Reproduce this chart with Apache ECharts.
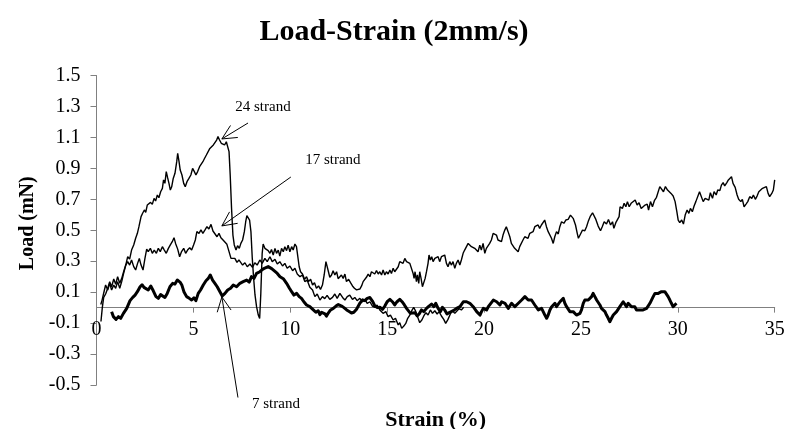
<!DOCTYPE html>
<html>
<head>
<meta charset="utf-8">
<script src="https://cdn.jsdelivr.net/npm/echarts@6/dist/echarts.min.js"></script>
<style>
html,body{margin:0;padding:0;background:#fff;}
#chart{width:788px;height:429px;}
</style>
</head>
<body>
<div id="chart"></div>
<script>
// ---------- data ----------
const titleText = 'Load-Strain (2mm/s)';
const xName = 'Strain (%)';
const yName = 'Load (mN)';
const xTicks = {min: 0, max: 35, step: 5};
const yTicks = {min: -0.5, max: 1.5, step: 0.2};

// 24 strand: [strain %, load mN]
const strand24 = [
[0.23,-0.09],[0.30,0.00],[0.37,0.066],[0.47,0.088],[0.58,0.125],[0.68,0.168],[0.78,0.135],[0.89,0.185],[0.99,0.151],[1.09,0.200],[1.20,0.157],[1.30,0.189],[1.40,0.232],[1.51,0.275],[1.61,0.329],[1.71,0.314],[1.81,0.372],[1.92,0.405],[2.02,0.448],[2.11,0.480],[2.19,0.523],[2.30,0.588],[2.38,0.610],[2.47,0.631],[2.54,0.616],[2.62,0.663],[2.71,0.652],[2.79,0.680],[2.88,0.667],[2.97,0.706],[3.05,0.689],[3.14,0.728],[3.22,0.710],[3.31,0.749],[3.40,0.771],[3.46,0.825],[3.53,0.803],[3.60,0.879],[3.67,0.840],[3.74,0.803],[3.81,0.760],[3.88,0.781],[3.96,0.835],[4.05,0.868],[4.14,0.943],[4.19,0.997],[4.26,0.943],[4.32,0.889],[4.41,0.857],[4.50,0.803],[4.58,0.781],[4.67,0.814],[4.77,0.835],[4.87,0.857],[4.96,0.900],[5.05,0.879],[5.13,0.857],[5.22,0.879],[5.32,0.911],[5.41,0.900],[5.49,0.943],[5.58,0.965],[5.67,0.986],[5.77,0.997],[5.85,1.029],[5.94,1.018],[6.03,1.051],[6.11,1.062],[6.20,1.083],[6.27,1.105],[6.35,1.083],[6.44,1.062],[6.53,1.072],[6.61,1.051],[6.70,1.072],[6.78,1.062],[6.84,1.008],[6.90,0.857],[6.97,0.641],[7.04,0.469],[7.11,0.405],[7.20,0.372],[7.28,0.400],[7.37,0.383],[7.45,0.415],[7.54,0.437],[7.63,0.491],[7.70,0.555],[7.76,0.594],[7.83,0.603],[7.90,0.566],[7.97,0.491],[8.04,0.318],[8.11,0.189],[8.18,0.082],[8.26,0.006],[8.35,-0.048],[8.42,-0.070],[8.48,0.092],[8.52,0.243],[8.55,0.351],[8.60,0.411],[8.69,0.383],[8.78,0.394],[8.86,0.368],[8.95,0.351],[9.03,0.376],[9.12,0.340],[9.21,0.383],[9.29,0.351],[9.38,0.372],[9.46,0.333],[9.55,0.383],[9.64,0.361],[9.72,0.394],[9.81,0.368],[9.89,0.404],[9.98,0.361],[10.07,0.394],[10.15,0.372],[10.24,0.411],[10.32,0.394],[10.41,0.404],[10.46,0.264],[10.53,0.232],[10.63,0.217],[10.74,0.183],[10.84,0.200],[10.94,0.168],[11.05,0.183],[11.15,0.146],[11.25,0.161],[11.35,0.125],[11.46,0.140],[11.56,0.118],[11.66,0.146],[11.75,0.211],[11.84,0.297],[11.90,0.286],[11.97,0.232],[12.04,0.196],[12.13,0.211],[12.21,0.239],[12.30,0.211],[12.39,0.232],[12.47,0.187],[12.56,0.178],[12.64,0.211],[12.73,0.189],[12.82,0.217],[12.90,0.168],[13.01,0.183],[13.11,0.161],[13.21,0.140],[13.31,0.125],[13.42,0.115],[13.52,0.105],[13.59,0.120],[13.68,0.140],[13.76,0.168],[13.85,0.161],[13.93,0.196],[14.02,0.217],[14.11,0.200],[14.19,0.232],[14.28,0.243],[14.36,0.217],[14.45,0.239],[14.54,0.217],
[14.62,0.232],[14.71,0.211],[14.79,0.243],[14.88,0.211],[14.96,0.232],[15.05,0.217],[15.14,0.243],[15.22,0.221],[15.31,0.254],[15.39,0.232],[15.48,0.243],[15.57,0.264],[15.65,0.297],[15.74,0.308],[15.82,0.286],[15.91,0.318],[16.00,0.297],[16.08,0.308],[16.17,0.286],[16.25,0.297],[16.34,0.221],[16.39,0.189],[16.44,0.232],[16.51,0.168],[16.56,0.211],[16.63,0.157],[16.68,0.232],[16.75,0.189],[16.82,0.135],[16.89,0.125],[16.96,0.189],[17.03,0.232],[17.11,0.286],[17.16,0.340],[17.23,0.308],[17.30,0.329],[17.37,0.297],[17.46,0.318],[17.54,0.308],[17.63,0.329],[17.71,0.297],[17.80,0.329],[17.89,0.318],[17.97,0.340],[18.06,0.286],[18.14,0.264],[18.23,0.297],[18.32,0.275],[18.40,0.297],[18.49,0.254],[18.57,0.286],[18.66,0.308],[18.75,0.275],[18.83,0.308],[18.92,0.351],[19.00,0.372],[19.09,0.361],[19.18,0.415],[19.26,0.426],[19.35,0.394],[19.43,0.404],[19.52,0.383],[19.61,0.394],[19.69,0.361],[19.78,0.404],[19.86,0.372],[19.95,0.415],[20.04,0.351],[20.12,0.383],[20.21,0.394],[20.29,0.415],[20.38,0.437],[20.47,0.480],[20.55,0.491],[20.64,0.469],[20.72,0.437],[20.81,0.448],[20.90,0.426],[20.98,0.469],[21.07,0.501],[21.15,0.523],[21.24,0.491],[21.33,0.458],[21.41,0.415],[21.50,0.404],[21.58,0.383],[21.67,0.372],[21.76,0.361],[21.84,0.394],[21.93,0.404],[22.01,0.437],[22.10,0.458],[22.19,0.469],[22.27,0.448],[22.36,0.480],[22.44,0.469],[22.53,0.491],[22.62,0.523],[22.70,0.512],[22.79,0.534],[22.87,0.512],[22.96,0.534],[23.04,0.545],[23.13,0.566],
[23.22,0.523],[23.31,0.491],[23.48,0.448],[23.57,0.415],[23.65,0.458],[23.74,0.491],[23.83,0.476],[23.91,0.523],[24.00,0.555],[24.12,0.545],[24.22,0.566],[24.34,0.570],[24.46,0.598],[24.51,0.609],[24.60,0.577],[24.72,0.534],[24.81,0.480],[24.87,0.448],[24.98,0.476],[25.08,0.501],[25.20,0.497],[25.29,0.523],[25.39,0.562],[25.49,0.592],[25.60,0.613],[25.68,0.620],[25.77,0.570],[25.89,0.527],[26.01,0.497],[26.10,0.523],[26.20,0.555],[26.32,0.540],[26.42,0.570],[26.53,0.534],[26.63,0.555],[26.70,0.512],[26.80,0.549],[26.90,0.540],[26.97,0.588],[27.02,0.652],[27.14,0.641],[27.23,0.674],[27.32,0.652],[27.40,0.685],[27.49,0.652],[27.59,0.674],[27.69,0.685],[27.80,0.695],[27.90,0.663],[28.00,0.678],[28.11,0.641],[28.21,0.631],[28.31,0.663],[28.42,0.669],[28.49,0.631],[28.59,0.685],[28.69,0.652],[28.79,0.691],[28.90,0.713],[29.00,0.713],[29.07,0.782],[29.17,0.792],[29.26,0.749],[29.36,0.782],[29.47,0.760],[29.55,0.771],[29.65,0.738],[29.76,0.721],[29.86,0.685],[29.95,0.620],[30.02,0.566],[30.10,0.549],[30.20,0.566],[30.29,0.540],[30.38,0.598],[30.48,0.631],[30.57,0.609],[30.65,0.641],[30.75,0.620],[30.84,0.657],[30.93,0.685],[31.03,0.678],[31.12,0.749],[31.20,0.738],[31.31,0.685],[31.41,0.706],[31.51,0.717],[31.60,0.695],[31.68,0.743],[31.79,0.706],[31.87,0.749],[31.98,0.728],[32.06,0.760],[32.17,0.756],[32.25,0.792],[32.34,0.808],[32.42,0.786],[32.53,0.808],[32.61,0.825],[32.70,0.836],[32.77,0.846],[32.85,0.803],[32.96,0.777],[33.06,0.728],[33.14,0.700],[33.25,0.685],[33.33,0.700],[33.42,0.652],[33.52,0.669],[33.61,0.685],[33.71,0.717],[33.82,0.706],[33.90,0.728],[34.00,0.700],[34.09,0.721],[34.18,0.749],[34.28,0.743],[34.37,0.771],[34.47,0.760],[34.57,0.782],[34.66,0.738],[34.74,0.717],[34.85,0.738],[34.93,0.760],[35.00,0.825]
];

// 17 strand
const strand17 = [
[0.22,0.02],[0.27,0.039],[0.37,0.093],[0.47,0.146],[0.58,0.114],[0.68,0.157],[0.78,0.114],[0.89,0.146],[0.99,0.125],[1.09,0.168],[1.20,0.125],[1.30,0.168],[1.40,0.221],[1.51,0.275],[1.61,0.297],[1.71,0.275],[1.81,0.308],[1.92,0.265],[2.02,0.243],[2.12,0.286],[2.21,0.318],[2.30,0.275],[2.40,0.243],[2.50,0.318],[2.59,0.378],[2.67,0.362],[2.78,0.383],[2.88,0.351],[2.98,0.372],[3.09,0.351],[3.19,0.383],[3.29,0.362],[3.40,0.394],[3.50,0.372],[3.60,0.351],[3.71,0.383],[3.81,0.405],[3.91,0.426],[4.00,0.452],[4.08,0.415],[4.19,0.378],[4.29,0.329],[4.39,0.362],[4.50,0.383],[4.60,0.351],[4.70,0.372],[4.81,0.387],[4.91,0.372],[5.01,0.405],[5.10,0.437],[5.18,0.491],[5.29,0.480],[5.39,0.502],[5.49,0.480],[5.60,0.502],[5.70,0.523],[5.80,0.508],[5.91,0.538],[6.01,0.495],[6.11,0.487],[6.22,0.458],[6.32,0.480],[6.42,0.452],[6.53,0.437],[6.63,0.448],[6.73,0.409],[6.84,0.362],[6.94,0.318],[7.04,0.308],[7.14,0.318],[7.25,0.292],[7.35,0.308],
[7.40,0.297],[7.54,0.275],[7.66,0.290],[7.78,0.264],[7.92,0.282],[8.05,0.260],[8.17,0.290],[8.29,0.275],[8.43,0.308],[8.55,0.286],[8.69,0.318],[8.81,0.297],[8.95,0.329],[9.07,0.297],[9.21,0.312],[9.33,0.282],[9.46,0.297],[9.60,0.269],[9.72,0.286],[9.84,0.254],[9.98,0.269],[10.12,0.239],[10.24,0.254],[10.36,0.217],[10.50,0.200],[10.63,0.211],[10.75,0.168],[10.87,0.178],[11.01,0.131],[11.15,0.114],[11.27,0.071],[11.39,0.088],[11.53,0.049],[11.66,0.071],[11.78,0.058],[11.90,0.079],[12.04,0.053],[12.18,0.066],[12.30,0.088],[12.42,0.060],[12.56,0.092],[12.70,0.066],[12.82,0.049],[12.94,0.071],[13.07,0.081],[13.21,0.053],[13.33,0.066],[13.45,0.045],[13.59,0.060],[13.73,0.038],[13.85,0.053],[13.97,0.028],[14.11,0.038],[14.24,0.010],[14.36,0.002],[14.48,0.017],[14.62,-0.015],[14.79,-0.037],[14.93,-0.026],[15.05,-0.058],[15.17,-0.048],[15.31,-0.080],[15.43,-0.069],[15.57,-0.112],[15.65,-0.097],[15.75,-0.134],[15.86,-0.119],[15.96,-0.102],[16.06,-0.069],[16.17,-0.048],[16.27,-0.020],[16.37,0.002],[16.48,-0.026],[16.58,-0.063],[16.68,-0.097],[16.79,-0.080],[16.89,-0.054],[17.00,-0.033],[17.11,-0.048],[17.23,-0.015],[17.34,-0.037],[17.46,-0.020],[17.58,-0.041],[17.68,-0.026],[17.80,-0.054],[17.92,-0.076],[18.02,-0.102],[18.14,-0.076],[18.26,-0.041],[18.37,-0.020],[18.49,-0.037],[18.61,-0.020],[18.71,-0.007],[18.83,-0.015],[18.95,0.002]
];

// 7 strand (thick line)
const strand7 = [
[0.78,-0.026],[0.87,-0.058],[1.01,-0.076],[1.13,-0.058],[1.25,-0.069],[1.39,-0.037],[1.56,-0.005],[1.73,0.045],[1.87,0.066],[1.99,0.081],[2.11,0.103],[2.25,0.135],[2.35,0.148],[2.45,0.131],[2.55,0.122],[2.67,0.114],[2.80,0.140],[2.93,0.109],[3.07,0.071],[3.19,0.060],[3.31,0.084],[3.41,0.092],[3.53,0.066],[3.65,0.092],[3.79,0.135],[3.93,0.157],[4.05,0.152],[4.17,0.178],[4.31,0.165],[4.41,0.144],[4.51,0.103],[4.65,0.071],[4.79,0.060],[4.91,0.049],[5.03,0.064],[5.13,0.045],[5.25,0.092],[5.37,0.114],[5.51,0.146],[5.65,0.174],[5.77,0.189],[5.87,0.211],[5.99,0.178],[6.11,0.157],[6.23,0.135],[6.37,0.103],[6.49,0.075],[6.63,0.092],[6.77,0.114],[6.92,0.125],[7.06,0.146],[7.23,0.135],[7.40,0.157],[7.57,0.168],[7.75,0.178],[7.88,0.165],[8.00,0.200],[8.13,0.189],[8.26,0.221],[8.43,0.232],[8.57,0.247],[8.69,0.256],[8.86,0.265],[9.04,0.252],[9.21,0.234],[9.33,0.221],[9.47,0.200],[9.64,0.187],[9.81,0.157],[9.95,0.127],[10.07,0.103],[10.19,0.081],[10.33,0.092],[10.46,0.071],[10.58,0.060],[10.70,0.038],[10.84,0.017],[11.01,0.006],[11.19,-0.015],[11.32,-0.030],[11.44,-0.020],[11.53,-0.045],[11.62,-0.030],[11.79,-0.040],[11.87,-0.055],[11.96,-0.035],[12.08,-0.015],[12.22,-0.005],[12.36,0.010],[12.48,0.020],[12.56,0.028],[12.65,0.010],[12.77,0.000],[12.91,-0.015],[13.04,-0.025],[13.16,-0.035],[13.28,-0.030],[13.42,-0.010],[13.59,0.028],[13.73,0.050],[13.85,0.045],[13.97,0.060],[14.11,0.065],[14.25,0.040],[14.37,0.010],[14.49,0.000],[14.62,0.002],[14.76,-0.011],[14.88,0.010],[15.00,0.038],[15.14,0.053],[15.27,0.038],[15.39,0.017],[15.51,0.038],[15.65,0.053],[15.77,0.038],[15.89,0.017],[16.00,-0.005],[16.10,-0.015],[16.20,-0.037],[16.30,-0.048],[16.43,-0.033],[16.55,-0.054],[16.65,-0.041],[16.77,-0.015],[16.89,-0.026],[17.03,-0.005],[17.16,0.010],[17.29,0.023],[17.41,0.006],[17.51,0.028],[17.63,-0.005],[17.75,-0.026],[17.85,0.002],[17.97,-0.015],[18.09,-0.041],[18.23,-0.030],[18.41,-0.020],[18.58,-0.005],[18.76,0.006],[18.93,0.038],[19.01,0.049],[19.10,0.038],[19.27,0.028],[19.44,0.006],[19.62,-0.026],[19.79,-0.048],[19.87,-0.026],[19.96,-0.005],[20.13,-0.015],[20.22,0.006],[20.30,-0.005],[20.48,0.049],[20.56,0.060],[20.65,0.038],[20.82,0.017],[20.91,0.038],[20.99,0.049],[21.08,0.028],[21.16,0.017],[21.25,-0.005],[21.34,0.006],[21.42,0.028],[21.51,0.017],[21.59,0.006],[21.68,0.017],[21.77,0.028],[21.85,0.038],[21.94,0.049],[22.02,0.060],[22.11,0.071],[22.20,0.060],[22.28,0.049],[22.37,0.060],[22.45,0.049],[22.54,0.038],[22.62,0.017],[22.71,0.006],[22.80,-0.015],[22.88,-0.026],[22.97,-0.005],[23.05,-0.015],[23.14,-0.048],[23.23,-0.069],[23.31,-0.048],[23.40,-0.015],[23.49,0.006],[23.57,0.017],[23.66,0.028],[23.74,0.006],[23.83,0.017],[23.92,0.038],[24.00,0.049],[24.09,0.060],[24.17,0.028],[24.26,0.006],[24.35,-0.005],[24.43,-0.026],[24.52,-0.015],[24.60,-0.026],[24.69,-0.037],[24.77,-0.048],[24.86,-0.058],[24.95,-0.037],[25.03,-0.015],[25.12,0.028],[25.20,0.049],[25.29,0.060],[25.38,0.049],[25.46,0.060],[25.55,0.071],[25.63,0.092],[25.72,0.071],[25.81,0.049],[25.89,0.038],[25.98,0.017],[26.06,-0.005],[26.15,-0.015],[26.24,-0.026],[26.32,-0.048],[26.41,-0.069],[26.49,-0.091],[26.58,-0.069],[26.67,-0.048],[26.75,-0.037],[26.84,-0.026],[26.92,-0.015],[27.01,0.006],[27.10,0.017],[27.18,0.038],[27.27,0.028],[27.35,0.006],[27.44,0.028],[27.53,0.038],[27.61,0.006],[27.70,0.017],[27.78,0.006],[27.87,-0.015],[27.96,-0.026],[28.04,-0.015],[28.13,-0.005],[28.21,-0.015],[28.30,-0.005],[28.39,-0.005],[28.47,0.006],[28.56,0.028],[28.64,0.038],[28.73,0.071],[28.82,0.092],[28.90,0.103],[28.99,0.092],[29.07,0.081],[29.16,0.103],[29.25,0.114],[29.33,0.103],[29.42,0.092],[29.50,0.071],[29.59,0.049],[29.67,0.028],[29.76,0.006],[29.84,0.017],[29.93,0.028]
];

// annotations (data coordinates): label text, label centre, arrow tail, arrow head
const annotationTexts = ['24 strand', '17 strand', '7 strand'];
const annotationLabelAt = [[8.59, 1.295], [12.20, 0.953], [9.26, -0.620]];
const annotationTail = [[7.82, 1.193], [10.03, 0.844], [7.30, -0.581]];
const annotationHead = [[6.47, 1.090], [6.47, 0.528], [6.47, 0.069]];

// ---------- chart ----------
const FONT = '"Liberation Serif", "Times New Roman", serif';
const GRAY = '#808080';
const chart = echarts.init(document.getElementById('chart'), null, {renderer: 'canvas'});

const option = {
  animation: false,
  backgroundColor: '#fff',
  title: {
    text: titleText, left: 'center', top: 12,
    textStyle: {fontFamily: FONT, fontWeight: 'bold', fontSize: 30, color: '#000'}
  },
  grid: {left: 96.5, right: 13.3, top: 75.5, bottom: 44, containLabel: false, outerBoundsMode: 'none'},
  xAxis: {
    type: 'value', min: xTicks.min, max: xTicks.max, interval: xTicks.step,
    name: xName, nameLocation: 'middle', nameGap: 102,
    nameTextStyle: {fontFamily: FONT, fontWeight: 'bold', fontSize: 22, color: '#000'},
    axisLine: {show: true, onZero: false, lineStyle: {color: GRAY, width: 1}},
    axisTick: {show: true, length: 5, lineStyle: {color: GRAY, width: 1}},
    axisLabel: {fontFamily: FONT, fontSize: 20, color: '#000', margin: 12},
    splitLine: {show: false}
  },
  yAxis: {
    type: 'value', min: yTicks.min, max: yTicks.max, interval: yTicks.step,
    name: yName, nameLocation: 'middle', nameGap: 57,
    nameTextStyle: {fontFamily: FONT, fontWeight: 'bold', fontSize: 20, color: '#000', padding: [0, 0, 0, 14]},
    axisLine: {show: true, onZero: false, lineStyle: {color: GRAY, width: 1}},
    axisTick: {show: true, length: 6, lineStyle: {color: GRAY, width: 1}},
    axisLabel: {fontFamily: FONT, fontSize: 20, color: '#000', margin: 16},
    splitLine: {show: false}
  },
  series: [
    {name: '24 strand', type: 'line', data: strand24, symbol: 'none', showSymbol: false,
     lineStyle: {color: '#000', width: 1.4}, z: 3},
    {name: '17 strand', type: 'line', data: strand17, symbol: 'none', showSymbol: false,
     lineStyle: {color: '#000', width: 1.4}, z: 3},
    {name: '7 strand', type: 'line', data: strand7, symbol: 'none', showSymbol: false,
     lineStyle: {color: '#000', width: 3, join: 'round'}, z: 4},
    {
      type: 'custom', coordinateSystem: 'cartesian2d', clip: false, silent: true, z: 10,
      data: annotationHead.map(p => [p[0], p[1]]),
      renderItem: function (params, api) {
        const i = params.dataIndex;
        const h = api.coord(annotationHead[i]);
        const t = api.coord(annotationTail[i]);
        const l = api.coord(annotationLabelAt[i]);
        const dx = t[0] - h[0], dy = t[1] - h[1];
        const len = Math.sqrt(dx * dx + dy * dy) || 1;
        const ux = dx / len, uy = dy / len;
        const ang = 26 * Math.PI / 180, armLen = 16;
        const arm = s => [h[0] + armLen * (ux * Math.cos(s * ang) - uy * Math.sin(s * ang)),
                          h[1] + armLen * (ux * Math.sin(s * ang) + uy * Math.cos(s * ang))];
        return {
          type: 'group',
          children: [
            {type: 'line', shape: {x1: h[0], y1: h[1], x2: t[0], y2: t[1]},
             style: {stroke: '#000', lineWidth: 1}},
            {type: 'polyline', shape: {points: [arm(1), h, arm(-1)]},
             style: {stroke: '#000', lineWidth: 1, fill: null}},
            {type: 'text', x: l[0], y: l[1],
             style: {text: annotationTexts[i], fontFamily: FONT, fontSize: 15, fill: '#000',
                     align: 'center', verticalAlign: 'middle'}}
          ]
        };
      }
    }
  ]
};
chart.setOption(option);

// place the x axis on the y = 0 line, using the library's own y scale
const zeroPx = chart.convertToPixel({yAxisIndex: 0}, 0);
const bottomPx = chart.convertToPixel({yAxisIndex: 0}, yTicks.min);
chart.setOption({xAxis: {offset: zeroPx - bottomPx}});
</script>
</body>
</html>
